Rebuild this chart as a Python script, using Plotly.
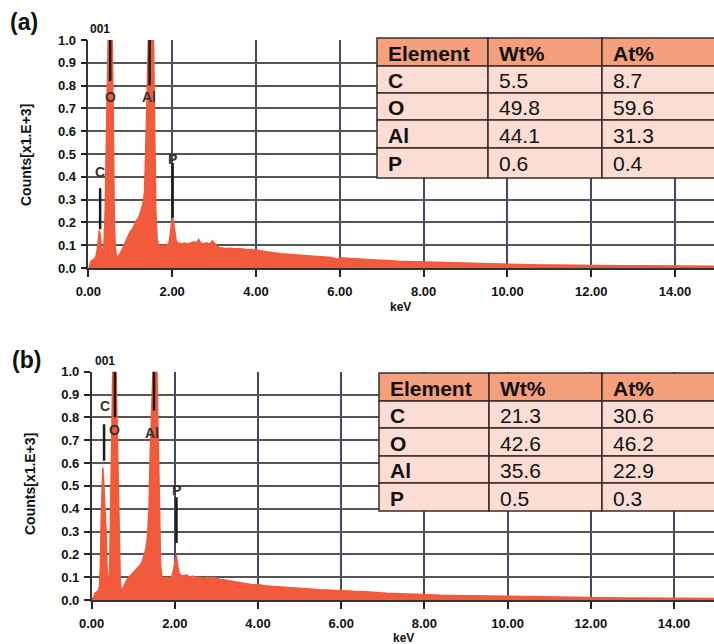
import plotly.graph_objects as go

W, H = 714, 644
FONT = "Liberation Sans, Arial, sans-serif"

# ---- EDS spectrum (a): energy [keV] vs counts [x1.E+3] ----
energy_a = [0.00, 0.03, 0.06, 0.10, 0.14, 0.18, 0.21, 0.24, 0.26, 0.28, 0.31, 0.34, 0.37, 0.40,
            0.43, 0.46, 0.49, 0.52, 0.55, 0.58, 0.60, 0.62, 0.64, 0.67, 0.70, 0.75, 0.80, 0.85,
            0.90, 0.95, 1.00, 1.05, 1.10, 1.15, 1.20, 1.25, 1.30, 1.34, 1.37, 1.40, 1.43, 1.46,
            1.49, 1.52, 1.55, 1.57, 1.59, 1.61, 1.64, 1.67, 1.72, 1.77, 1.82, 1.87, 1.92, 1.95,
            1.98, 2.01, 2.04, 2.07, 2.10, 2.15, 2.22, 2.30, 2.38, 2.45, 2.52, 2.58, 2.63, 2.68,
            2.75, 2.82, 2.90, 2.96, 3.00, 3.05, 3.12, 3.20, 3.30, 3.40, 3.50, 3.60, 3.70, 3.80,
            3.90, 4.00, 4.15, 4.30, 4.45, 4.60, 4.75, 4.90, 5.05, 5.20, 5.35, 5.50, 5.65, 5.80,
            5.95, 6.00, 6.15, 6.30, 6.50, 6.70, 6.85, 7.00, 7.20, 7.40, 7.60, 7.80, 8.00, 8.25,
            8.50, 8.75, 9.00, 9.30, 9.60, 9.90, 10.20, 10.50, 10.80, 11.10, 11.40, 11.70, 12.00,
            12.40, 12.80, 13.20, 13.60, 14.00, 14.50, 15.00]
counts_a = [0.000, 0.010, 0.030, 0.035, 0.040, 0.050, 0.080, 0.130, 0.165, 0.150, 0.090, 0.070, 0.100, 0.250,
            0.600, 0.950, 1.200, 1.300, 1.200, 0.850, 0.450, 0.200, 0.100, 0.050, 0.050, 0.060, 0.080, 0.100,
            0.120, 0.140, 0.160, 0.170, 0.190, 0.210, 0.220, 0.250, 0.280, 0.330, 0.500, 0.750, 1.000, 1.250,
            1.350, 1.300, 1.050, 0.750, 0.450, 0.250, 0.130, 0.100, 0.095, 0.100, 0.095, 0.100, 0.110, 0.140,
            0.190, 0.220, 0.190, 0.140, 0.115, 0.110, 0.105, 0.110, 0.105, 0.110, 0.115, 0.110, 0.125, 0.110,
            0.105, 0.110, 0.105, 0.120, 0.110, 0.100, 0.090, 0.088, 0.085, 0.087, 0.083, 0.085, 0.082, 0.080,
            0.081, 0.078, 0.072, 0.070, 0.066, 0.062, 0.060, 0.058, 0.055, 0.053, 0.052, 0.050, 0.048, 0.046,
            0.038, 0.045, 0.043, 0.041, 0.040, 0.038, 0.036, 0.034, 0.032, 0.030, 0.029, 0.027, 0.025, 0.024,
            0.022, 0.021, 0.020, 0.018, 0.017, 0.016, 0.015, 0.014, 0.013, 0.013, 0.012, 0.012, 0.011,
            0.011, 0.010, 0.010, 0.009, 0.009, 0.008, 0.008]

# ---- EDS spectrum (b) ----
energy_b = [0.00, 0.04, 0.08, 0.12, 0.16, 0.19, 0.21, 0.23, 0.25, 0.27, 0.29, 0.31, 0.33, 0.35,
            0.37, 0.39, 0.41, 0.43, 0.45, 0.47, 0.50, 0.53, 0.56, 0.59, 0.62, 0.65, 0.67, 0.69,
            0.71, 0.75, 0.80, 0.85, 0.90, 0.95, 1.00, 1.05, 1.10, 1.15, 1.20, 1.25, 1.30, 1.34,
            1.38, 1.41, 1.44, 1.47, 1.50, 1.53, 1.56, 1.59, 1.62, 1.64, 1.66, 1.69, 1.74, 1.80,
            1.86, 1.92, 1.97, 2.01, 2.04, 2.07, 2.10, 2.14, 2.20, 2.28, 2.36, 2.44, 2.52, 2.60,
            2.68, 2.76, 2.84, 2.92, 3.00, 3.10, 3.20, 3.30, 3.40, 3.50, 3.60, 3.70, 3.80, 3.90,
            4.00, 4.15, 4.30, 4.45, 4.60, 4.75, 4.90, 5.05, 5.20, 5.35, 5.50, 5.65, 5.80, 6.00,
            6.15, 6.30, 6.50, 6.70, 6.90, 7.10, 7.30, 7.50, 7.70, 7.90, 8.10, 8.40, 8.70, 9.00,
            9.30, 9.60, 9.90, 10.20, 10.50, 10.80, 11.10, 11.40, 11.70, 12.00, 12.40, 12.80,
            13.20, 13.60, 14.00, 14.50, 15.00]
counts_b = [0.000, 0.010, 0.030, 0.035, 0.040, 0.060, 0.150, 0.350, 0.500, 0.580, 0.520, 0.440, 0.400, 0.300,
            0.150, 0.080, 0.060, 0.100, 0.350, 0.700, 1.000, 1.250, 1.250, 1.000, 0.750, 0.450, 0.200, 0.080,
            0.045, 0.050, 0.070, 0.090, 0.100, 0.110, 0.120, 0.130, 0.140, 0.150, 0.160, 0.190, 0.220, 0.270,
            0.400, 0.650, 0.900, 1.150, 1.300, 1.300, 1.100, 0.850, 0.550, 0.300, 0.150, 0.100, 0.095, 0.100,
            0.095, 0.100, 0.130, 0.180, 0.195, 0.150, 0.120, 0.110, 0.105, 0.110, 0.100, 0.105, 0.098, 0.100,
            0.095, 0.100, 0.097, 0.100, 0.094, 0.090, 0.088, 0.085, 0.080, 0.078, 0.075, 0.072, 0.070, 0.066,
            0.068, 0.062, 0.060, 0.058, 0.055, 0.053, 0.050, 0.049, 0.048, 0.046, 0.045, 0.044, 0.042, 0.041,
            0.040, 0.038, 0.037, 0.034, 0.032, 0.030, 0.029, 0.027, 0.025, 0.023, 0.022, 0.021, 0.020, 0.019,
            0.018, 0.017, 0.016, 0.015, 0.014, 0.013, 0.012, 0.011, 0.011, 0.010, 0.010, 0.009,
            0.009, 0.008, 0.008, 0.007, 0.007]

# ---- element line markers: label, energy, top/bottom of marker bar, label height ----
elements = ["C", "O", "Al", "P"]
marker_kev_a = [0.28, 0.52, 1.46, 2.01]
marker_top_a = [0.35, 1.00, 1.00, 0.46]
marker_bot_a = [0.17, 0.82, 0.80, 0.22]
label_kev_a = [0.28, 0.52, 1.45, 2.00]
label_cnt_a = [0.42, 0.75, 0.75, 0.48]

marker_kev_b = [0.30, 0.56, 1.50, 2.04]
marker_top_b = [0.77, 1.00, 1.00, 0.45]
marker_bot_b = [0.61, 0.80, 0.83, 0.25]
label_kev_b = [0.32, 0.56, 1.44, 2.04]
label_cnt_b = [0.85, 0.745, 0.73, 0.48]

# ---- quantification tables ----
table_header = ["Element", "Wt%", "At%"]
wt_a = ["5.5", "49.8", "44.1", "0.6"]
at_a = ["8.7", "59.6", "31.3", "0.4"]
wt_b = ["21.3", "42.6", "35.6", "0.5"]
at_b = ["30.6", "46.2", "22.9", "0.3"]

x_ticks = [0, 2, 4, 6, 8, 10, 12, 14]
y_ticks = [0.0, 0.1, 0.2, 0.3, 0.4, 0.5, 0.6, 0.7, 0.8, 0.9, 1.0]

SPEC = "#F15A3B"
HDR_FILL = "#F4A07C"
ROW_FILL = "#FCDDD3"
BORDER = "#3A2B2B"


def px(x):
    return x / W


def py(y):
    return 1 - y / H


fig = go.Figure()

panels = [
    dict(xa="x", ya="y", e=energy_a, c=counts_a, mk=marker_kev_a, mt=marker_top_a, mb=marker_bot_a,
         lk=label_kev_a, lc=label_cnt_a),
    dict(xa="x2", ya="y2", e=energy_b, c=counts_b, mk=marker_kev_b, mt=marker_top_b, mb=marker_bot_b,
         lk=label_kev_b, lc=label_cnt_b),
]

annotations = []
shapes = []


def note(x, y, text, size, bold=True, angle=0):
    annotations.append(dict(x=px(x), y=py(y), xref="paper", yref="paper", text=text,
                            showarrow=False, xanchor="center", yanchor="middle", textangle=angle,
                            font=dict(family=FONT, size=size, color="#111111",
                                      weight="bold" if bold else "normal")))


for p in panels:
    fig.add_trace(go.Scatter(x=p["e"], y=p["c"], xaxis=p["xa"], yaxis=p["ya"], mode="lines",
                             line=dict(color=SPEC, width=1.5), fill="tozeroy", fillcolor=SPEC,
                             hoverinfo="skip", showlegend=False))
    for k, t, b in zip(p["mk"], p["mt"], p["mb"]):
        fig.add_trace(go.Scatter(x=[k, k], y=[b, t], xaxis=p["xa"], yaxis=p["ya"], mode="lines",
                                 line=dict(color="#1a1a1a", width=2.5), hoverinfo="skip",
                                 showlegend=False))
    for name, k, c in zip(elements, p["lk"], p["lc"]):
        annotations.append(dict(x=k, y=c, xref=p["xa"], yref=p["ya"], text=name, showarrow=False,
                                xanchor="center", yanchor="middle",
                                font=dict(family=FONT, size=14, color="#333333", weight="bold")))

axis_common = dict(showline=True, linecolor="#333333", linewidth=1.5, ticks="outside",
                   tickcolor="#222222", tickwidth=2, showgrid=True, zeroline=False,
                   automargin=False,
                   tickfont=dict(family=FONT, size=13, color="#111111", weight="bold"))
x_common = dict(ticklen=7, ticklabelstandoff=4, tickvals=x_ticks, tickformat=".2f",
                gridcolor="#3E4A66", gridwidth=1.6, **axis_common)
y_common = dict(ticklen=6, ticklabelstandoff=2, tickvals=y_ticks, tickformat=".1f", range=[0, 1.0],
                gridcolor="#555555", gridwidth=1.6, **axis_common)

fig.update_layout(
    width=W, height=H, margin=dict(l=0, r=0, t=0, b=0, autoexpand=False),
    paper_bgcolor="white", plot_bgcolor="white",
    xaxis=dict(domain=[px(88.4), 1.0], range=[0, 14.93], anchor="y", **x_common),
    yaxis=dict(domain=[py(268), py(40)], anchor="x", **y_common),
    xaxis2=dict(domain=[px(91.6), 1.0], range=[0, 14.96], anchor="y2", **x_common),
    yaxis2=dict(domain=[py(600), py(371.7)], anchor="x2", **y_common),
)


def add_table(cols, rows, wt, at):
    body = [[e, w, a] for e, w, a in zip(elements, wt, at)]
    grid = [table_header] + body
    for r in range(len(rows) - 1):
        for ci in range(len(cols) - 1):
            shapes.append(dict(type="rect", xref="paper", yref="paper",
                               x0=px(cols[ci]), x1=px(cols[ci + 1]),
                               y0=py(rows[r + 1]), y1=py(rows[r]),
                               fillcolor=HDR_FILL if r == 0 else ROW_FILL,
                               line=dict(color=BORDER, width=1.5), layer="above"))
            bold = (r == 0) or (ci == 0)
            annotations.append(dict(
                x=px(cols[ci] + 9), y=py((rows[r] + rows[r + 1]) / 2 + 1), xref="paper", yref="paper",
                text=grid[r][ci], showarrow=False, xanchor="left", yanchor="middle",
                font=dict(family=FONT, size=21, color="#111111", weight="bold" if bold else "normal")))


add_table([377, 488, 602, 716], [38, 66, 93, 120, 148, 178], wt_a, at_a)
add_table([379, 489, 602, 716], [373, 401, 428, 456, 483, 511], wt_b, at_b)

# panel letters, axis titles and the "001" tag
note(24, 22, "(a)", 23)
note(27, 360, "(b)", 23)
note(100, 29, "001", 12)
note(105, 361, "001", 12)
note(26, 155, "Counts[x1.E+3]", 14, angle=-90)
note(30, 484, "Counts[x1.E+3]", 14, angle=-90)
note(400, 307, "keV", 12)
note(403, 638, "keV", 12)

fig.update_layout(annotations=annotations, shapes=shapes)
fig.write_html("out.html")
